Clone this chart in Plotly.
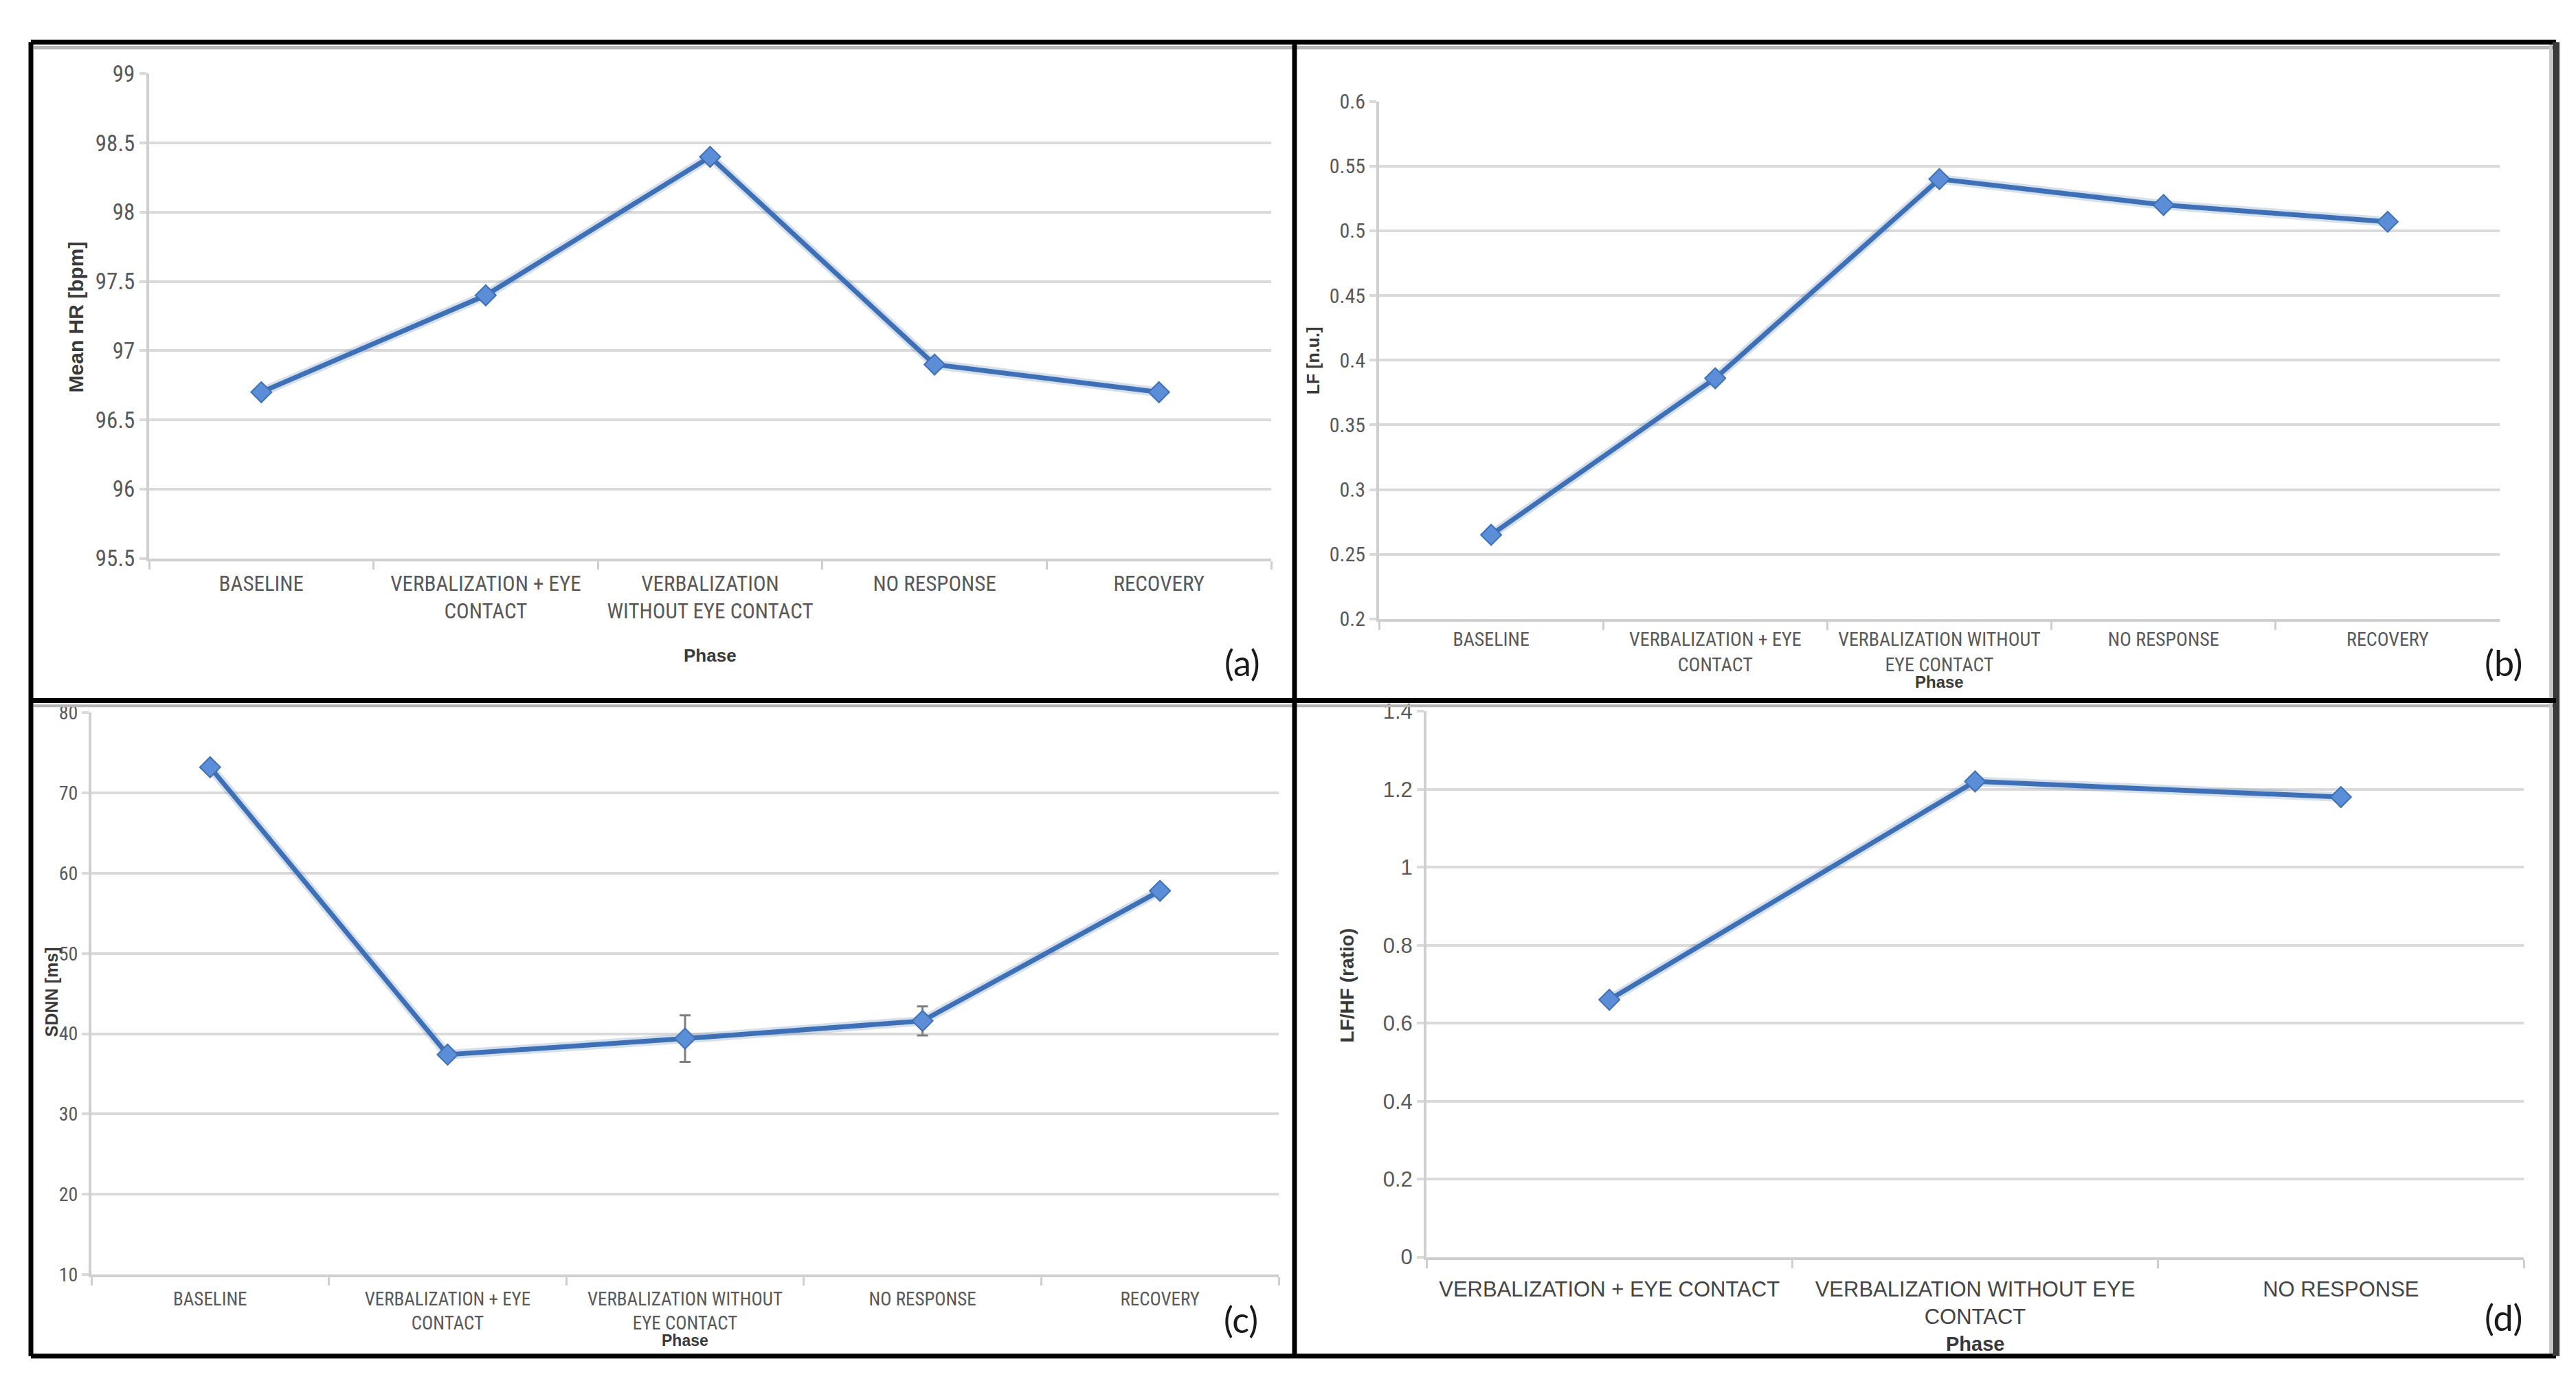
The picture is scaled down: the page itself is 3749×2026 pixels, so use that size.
import plotly.graph_objects as go

W, H = 3749, 2026

# ---------------- data ----------------
labels_a = ["BASELINE", "VERBALIZATION + EYE<br>CONTACT", "VERBALIZATION<br>WITHOUT EYE CONTACT",
            "NO RESPONSE", "RECOVERY"]
labels_bc = ["BASELINE", "VERBALIZATION + EYE<br>CONTACT", "VERBALIZATION WITHOUT<br>EYE CONTACT",
             "NO RESPONSE", "RECOVERY"]
labels_d = ["VERBALIZATION + EYE CONTACT", "VERBALIZATION WITHOUT EYE<br>CONTACT", "NO RESPONSE"]

mean_hr = [96.7, 97.4, 98.4, 96.9, 96.7]
lf_nu = [0.265, 0.386, 0.54, 0.52, 0.507]
sdnn = [73.2, 37.4, 39.4, 41.6, 57.8]
sdnn_err = [None, None, 2.9, 1.8, None]
lf_hf = [0.66, 1.22, 1.18]

ticks_a = [95.5, 96, 96.5, 97, 97.5, 98, 98.5, 99]
ticktext_a = ["95.5", "96", "96.5", "97", "97.5", "98", "98.5", "99"]
ticks_b = [0.2, 0.25, 0.3, 0.35, 0.4, 0.45, 0.5, 0.55, 0.6]
ticktext_b = ["0.2", "0.25", "0.3", "0.35", "0.4", "0.45", "0.5", "0.55", "0.6"]
ticks_c = [10, 20, 30, 40, 50, 60, 70, 80]
ticktext_c = ["10", "20", "30", "40", "50", "60", "70", "80"]
ticks_d = [0, 0.2, 0.4, 0.6, 0.8, 1, 1.2, 1.4]
ticktext_d = ["0", "0.2", "0.4", "0.6", "0.8", "1", "1.2", "1.4"]

# ---------------- style ----------------
NARROW = "Liberation Sans Narrow, Arial Narrow, Roboto Condensed, DejaVu Sans Condensed, sans-serif"
REG = "Liberation Sans, Arial, sans-serif"
BOLD = "Liberation Sans, Arial, sans-serif"
LINE_C = "#3D70B7"
MARK_C = "#5B8ED6"
GRID_C = "#DADADA"
TICK_C = "#595959"


def px(x):
    return x / W


def py(y):
    return 1 - y / H


fig = go.Figure()

panels = [
    dict(x=labels_a, y=mean_hr, err=None, xd=(209, 1842), yd=(82, 801), rng=[95.5, 99],
         tv=ticks_a, tt=ticktext_a, tf=33, tfam=NARROW, xf=31, xfam=NARROW, xcol=TICK_C, so=6),
    dict(x=labels_bc, y=lf_nu, err=None, xd=(1999, 3630), yd=(123, 891), rng=[0.2, 0.6],
         tv=ticks_b, tt=ticktext_b, tf=30, tfam=NARROW, xf=28, xfam=NARROW, xcol=TICK_C, so=2),
    dict(x=labels_bc, y=sdnn, err=sdnn_err, xd=(125, 1853), yd=(1030, 1864), rng=[10, 80],
         tv=ticks_c, tt=ticktext_c, tf=28, tfam=NARROW, xf=27, xfam=NARROW, xcol=TICK_C, so=8),
    dict(x=labels_d, y=lf_hf, err=None, xd=(2068, 3665), yd=(1028, 1838), rng=[0, 1.4],
         tv=ticks_d, tt=ticktext_d, tf=31, tfam=REG, xf=31, xfam=REG, xcol="#454545", so=16),
]

for i, p in enumerate(panels, start=1):
    suf = "" if i == 1 else str(i)
    # soft glow under the line (Excel-like shadow)
    fig.add_trace(go.Scatter(
        x=p["x"], y=p["y"], mode="lines",
        line=dict(color="rgba(70,110,170,0.22)", width=14),
        xaxis="x" + suf, yaxis="y" + suf, showlegend=False, hoverinfo="skip",
    ))
    tr = dict(
        x=p["x"], y=p["y"], mode="lines+markers",
        line=dict(color=LINE_C, width=7),
        marker=dict(symbol="diamond", size=23, color=MARK_C, line=dict(color=LINE_C, width=2)),
        xaxis="x" + suf, yaxis="y" + suf, showlegend=False,
    )
    if p["err"] is not None:
        tr["error_y"] = dict(type="data", array=p["err"], symmetric=True, color="#7F7F7F",
                             thickness=3, width=8)
    fig.add_trace(go.Scatter(**tr))
    n = len(p["x"])
    fig.update_layout(**{
        "xaxis" + suf: dict(
            domain=[px(p["xd"][0]), px(p["xd"][1])], anchor="y" + suf,
            type="category", range=[-0.5, n - 0.5],
            showline=True, linecolor="#CFCFCF", linewidth=4,
            ticks="outside", tickson="boundaries", ticklen=12, tickwidth=3, tickcolor="#CFCFCF",
            ticklabelstandoff=p["so"],
            showgrid=False, tickfont=dict(family=p["xfam"], size=p["xf"], color=p["xcol"]),
            fixedrange=True,
        ),
        "yaxis" + suf: dict(
            domain=[py(p["yd"][1]), py(p["yd"][0])], anchor="x" + suf,
            range=p["rng"], tickvals=p["tv"], ticktext=p["tt"],
            showline=True, linecolor="#CFCFCF", linewidth=4,
            ticks="outside", ticklen=10, tickwidth=4, tickcolor=GRID_C,
            showgrid=True, gridcolor=GRID_C, gridwidth=4, zeroline=False,
            tickfont=dict(family=p["tfam"], size=p["tf"], color=TICK_C),
            fixedrange=True,
        ),
    })

# ---------------- titles & panel letters ----------------
ann = []


def text(s, x, y, size, family=BOLD, bold=True, angle=0, color="#3A3A3A"):
    ann.append(dict(
        text=("<b>%s</b>" % s) if bold else s, x=px(x), y=py(y), xref="paper", yref="paper",
        showarrow=False, xanchor="center", yanchor="middle", textangle=angle,
        font=dict(family=family, size=size, color=color),
    ))


text("Phase", 1025, 945, 26)
text("Phase", 2814, 984, 24)
text("Phase", 989, 1962, 23)
text("Phase", 2866, 1967, 29)

text("Mean HR [bpm]", 102, 443, 30, angle=-90)
text("LF [n.u.]", 1903, 507, 25, angle=-90)
text("SDNN [ms]", 67, 1445, 25, angle=-90)
text("LF/HF (ratio)", 1952, 1435, 28, angle=-90)

LET = "Lato, Open Sans, sans-serif"
text("(a)", 1800, 955, 52, family=LET, bold=False, color="#1A1A1A")
text("(b)", 3635, 955, 52, family=LET, bold=False, color="#1A1A1A")
text("(c)", 1798, 1930, 52, family=LET, bold=False, color="#1A1A1A")
text("(d)", 3635, 1927, 52, family=LET, bold=False, color="#1A1A1A")

# ---------------- frame ----------------
L, R, T, B, VX, HY = 37, 3712, 35, 1985, 1876, 1012
shapes = []


def seg(x0, y0, x1, y1, color="#000000", width=7):
    shapes.append(dict(type="line", xref="paper", yref="paper",
                       x0=px(x0), y0=py(y0), x1=px(x1), y1=py(y1),
                       line=dict(color=color, width=width)))


# soft grey inner shadow
seg(L + 4, T + 8, R - 4, T + 8, color="#B5B5B5", width=5)
seg(L + 4, HY + 8, R - 4, HY + 8, color="#B5B5B5", width=4)
seg(R - 8, T, R - 8, B, color="#C8C8C8", width=4)
# black frame
seg(L, T, R, T)
seg(L, B, R, B)
seg(L, T, L, B)
seg(R, T, R, B, color="#3A3A3A", width=10)
seg(VX, T, VX, B)
seg(L, HY, R, HY)

fig.update_layout(
    width=W, height=H, margin=dict(l=0, r=0, t=0, b=0),
    paper_bgcolor="white", plot_bgcolor="white",
    annotations=ann, shapes=shapes, showlegend=False,
)

fig.write_html("out.html", config={"displayModeBar": False})
